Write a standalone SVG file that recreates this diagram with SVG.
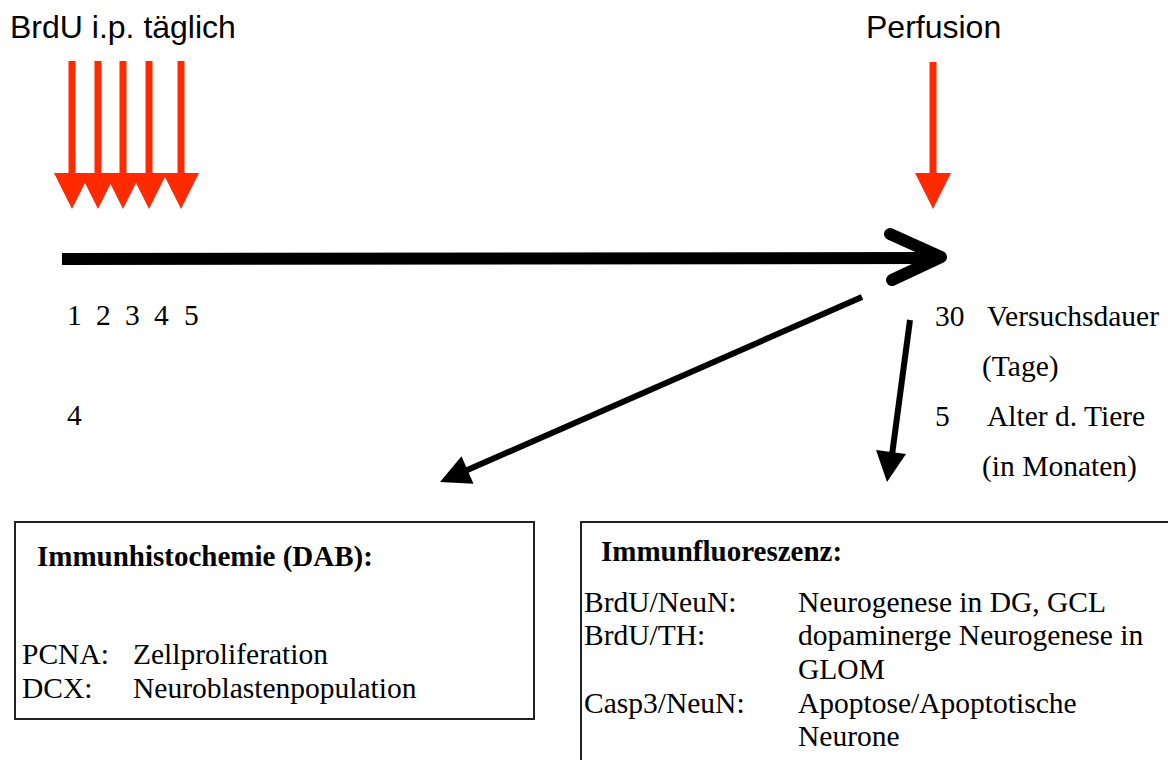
<svg xmlns="http://www.w3.org/2000/svg" width="1168" height="760" viewBox="0 0 1168 760">
<style>
.sans{font-family:"Liberation Sans",Arial,sans-serif;font-size:32px;fill:#000}
.serif{font-family:"Liberation Serif","Times New Roman",serif;font-size:29.5px;fill:#000}
.bold{font-family:"Liberation Serif","Times New Roman",serif;font-size:29px;font-weight:bold;fill:#000}
.red{fill:#ff2a00}
.box{fill:#fff;stroke:#222;stroke-width:2}
.conn{stroke:#000;stroke-width:6;fill:none}
.head{fill:#000}
</style>
<rect width="1168" height="760" fill="#fff"/>
<g id="label-brdu"><text class="sans" x="10" y="38">BrdU i.p. täglich</text></g>
<g id="label-perfusion"><text class="sans" x="866" y="38">Perfusion</text></g>
<g id="injection-arrows">
<rect class="red" x="68.5" y="61" width="7" height="114"/><polygon class="red" points="54,173 90,173 72,209"/>
<rect class="red" x="94.5" y="61" width="7" height="114"/><polygon class="red" points="80,173 116,173 98,209"/>
<rect class="red" x="119.5" y="61" width="7" height="114"/><polygon class="red" points="105,173 141,173 123,209"/>
<rect class="red" x="145.5" y="61" width="7" height="114"/><polygon class="red" points="131,173 167,173 149,209"/>
<rect class="red" x="177.5" y="61" width="7" height="114"/><polygon class="red" points="163,173 199,173 181,209"/>
</g>
<g id="perfusion-arrow">
<rect class="red" x="929.5" y="62" width="7" height="113"/><polygon class="red" points="915,173 951,173 933,209"/>
</g>
<g id="timeline">
<line x1="62" y1="259" x2="936" y2="258" stroke="#000" stroke-width="12"/>
<polyline points="890,234 941,257 892,280" fill="none" stroke="#000" stroke-width="12" stroke-linecap="round" stroke-linejoin="round"/>
</g>
<g id="day-labels">
<text class="serif" x="67" y="325">1</text>
<text class="serif" x="96" y="325">2</text>
<text class="serif" x="125" y="325">3</text>
<text class="serif" x="154" y="325">4</text>
<text class="serif" x="184" y="325">5</text>
<text class="serif" x="67" y="425">4</text>
</g>
<g id="legend">
<text class="serif" x="935" y="326">30</text>
<text class="serif" x="987" y="326">Versuchsdauer</text>
<text class="serif" x="982" y="376">(Tage)</text>
<text class="serif" x="935" y="426">5</text>
<text class="serif" x="987" y="426">Alter d. Tiere</text>
<text class="serif" x="982" y="476">(in Monaten)</text>
</g>
<g id="connectors">
<line class="conn" x1="862" y1="297" x2="465" y2="471"/>
<polygon class="head" points="440,482 461.5,456.3 473.5,483.7"/>
<line class="conn" x1="910" y1="320" x2="892" y2="455"/>
<polygon class="head" points="887,482 876,450 906,454"/>
</g>
<g id="box-ihc">
<rect class="box" x="15" y="522" width="519" height="197"/>
<text class="bold" x="37" y="566">Immunhistochemie (DAB):</text>
<text class="serif" x="22" y="664">PCNA:</text>
<text class="serif" x="133" y="664">Zellproliferation</text>
<text class="serif" x="22" y="698">DCX:</text>
<text class="serif" x="133" y="698">Neuroblastenpopulation</text>
</g>
<g id="box-if">
<rect class="box" x="581" y="522" width="620" height="260"/>
<text class="bold" x="601" y="561">Immunfluoreszenz:</text>
<text class="serif" x="584" y="612">BrdU/NeuN:</text>
<text class="serif" x="798" y="612">Neurogenese in DG, GCL</text>
<text class="serif" x="584" y="645">BrdU/TH:</text>
<text class="serif" x="798" y="645">dopaminerge Neurogenese in</text>
<text class="serif" x="798" y="679">GLOM</text>
<text class="serif" x="584" y="713">Casp3/NeuN:</text>
<text class="serif" x="798" y="713">Apoptose/Apoptotische</text>
<text class="serif" x="798" y="746">Neurone</text>
</g>
</svg>
